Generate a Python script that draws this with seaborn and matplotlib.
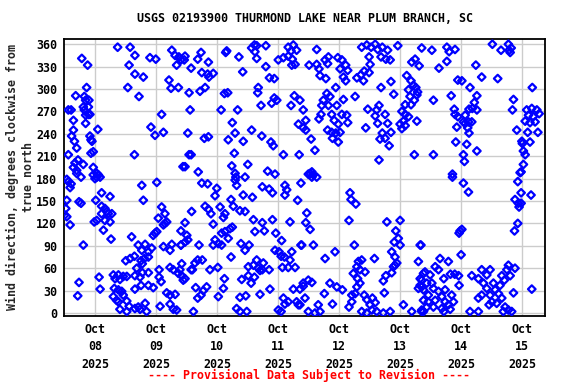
import matplotlib
matplotlib.use("Agg")
import matplotlib.pyplot as plt
import matplotlib.dates as mdates
import seaborn as sns
import pandas as pd

# (hours after 2025-10-08 00:00, wind direction in degrees)
oct07_08_upper = [(8.9,356),(13.8,356),(15.7,345),(-5.2,341),(-2.9,332),(13.4,332),(21.6,342),(23.9,340),(30.2,352),(31.5,345),(33.0,343),(33.8,339),(32.1,332),(15.7,320),(19.0,316),(29.1,312),(29.9,301),(32.8,302),(-3.3,302),(12.9,302),(17.3,290),(-7.6,291),(-4.2,290),(-3.7,285),(-2.4,285),(-4.6,276),(-2.6,276),(-10.5,272),(-9.4,272),(-4.2,272),(-2.6,266),(-3.7,265),(-2.0,266),(-8.5,258),(-3.7,254),(26.2,266),(22.0,249),(23.6,238),(26.9,242),(1.1,246),(-8.5,245),(-9.2,237),(-2.0,237),(-1.6,232),(-1.2,230),(-8.1,230),(-7.2,221),(-10.5,212),(-1.6,214),(-0.7,216),(15.5,212),(-6.7,205),(-7.9,201),(-8.5,195),(-7.2,191),(-4.6,199),(-0.7,195),(0.7,187),(1.3,185),(34.6,196)]
oct07_08_lower = [(-10.5,176),(-9.4,173),(-9.8,168),(-11.1,179),(-5.5,182),(-7.2,187),(-0.7,185),(0.7,182),(2.0,182),(0,180),(18.4,171),(24.3,175),(-11.1,151),(-6.3,149),(-5.5,147),(0.3,151),(2.6,161),(5.9,156),(19.0,151),(-11.5,140),(-12.0,131),(-11.1,129),(2.6,143),(3.9,140),(4.6,136),(2.6,133),(5.2,133),(6.6,133),(5.9,122),(3.9,124),(0.7,124),(-0.3,122),(-9.8,118),(3.3,111),(6.3,99),(-4.6,91),(14.4,102),(26.2,142),(27.5,133),(24.9,127),(28.2,122),(26.9,118),(24.3,109),(22.9,104),(27.5,120),(17.0,91),(19.7,92),(22.3,87),(21.0,82),(18.4,84),(23.6,107),(26.9,89),(30.2,92),(29.5,84),(33.8,91),(12.1,70),(13.8,73),(15.5,76),(18.1,70),(19.4,73),(21.0,75),(18.6,66),(16.4,60),(7.2,51),(9.2,51),(11.1,49),(12.5,49),(9.8,45),(7.9,46),(15.7,50),(17.7,48),(18.6,54),(21.0,54),(25.2,58),(29.5,61),(30.8,58),(32.8,53),(34.1,50),(34.7,44),(1.6,48),(-6.3,41),(-6.8,23),(2.0,32),(7.6,33),(9.2,31),(10.5,29),(15.7,32),(18.1,37),(21.0,37),(22.9,34),(25.2,48),(26.0,42),(28.2,27),(29.5,24),(31.5,25),(7.2,22),(8.5,17),(11.1,24),(9.2,15),(12.5,16),(13.4,9),(9.8,5),(12.5,2),(17.0,8),(19.7,13),(20.3,2),(17.7,5),(25.6,9),(29.5,12),(30.8,5),(15.7,6)]
oct09_10_upper = [(35.4,344),(35.1,339),(37.8,328),(41.7,349),(40.4,340),(44.6,336),(51.8,351),(51.4,349),(56.6,343),(42.0,322),(44.3,320),(44.8,316),(46.5,321),(58.1,323),(37.0,295),(41.3,297),(43.3,302),(50.9,294),(52.2,295),(37.4,272),(49.6,272),(56.1,272),(54.0,255),(36.5,241),(43.0,234),(44.6,236),(55.1,241),(52.4,232),(58.3,230),(37.0,212),(37.8,212),(54.8,214),(35.4,196),(40.6,189),(53.8,197),(55.1,187),(60.1,199),(62.7,359),(61.6,355),(62.9,350),(63.6,358),(67.2,358),(63.6,341),(67.2,330),(76.0,356),(78.0,359),(77.1,351),(79.3,352),(72.1,339),(74.1,342),(76.0,344),(77.6,340),(77.4,332),(78.7,333),(68.6,315),(70.5,314),(64.2,302),(64.0,295),(65.3,278),(69.5,281),(70.5,288),(71.5,285),(78.4,291),(80.6,285),(77.1,278),(81.9,272),(80.0,253),(81.9,248),(61.6,245),(65.6,237),(69.2,229),(70.1,224),(74.1,212),(80.3,212),(67.9,190),(70.8,186)]
oct09_10_lower = [(42.0,174),(44.3,173),(47.9,167),(47.2,157),(55.4,182),(55.1,178),(59.0,182),(55.7,171),(65.8,169),(68.5,166),(69.8,161),(74.7,171),(75.4,165),(74.7,158),(81.0,174),(58.3,158),(61.9,155),(79.7,151),(38.0,136),(43.3,143),(44.6,139),(45.6,133),(49.2,142),(51.1,133),(50.5,128),(53.5,152),(54.4,143),(57.0,137),(59.0,136),(35.4,121),(33.8,110),(36.1,104),(36.5,98),(33.8,91),(35.4,95),(46.5,119),(40.9,91),(62.3,125),(62.9,109),(65.8,121),(66.6,110),(69.8,125),(71.1,107),(73.4,97),(76.7,122),(53.1,113),(54.0,115),(51.1,109),(49.8,107),(52.4,100),(47.2,98),(48.5,93),(49.8,91),(46.5,91),(57.4,93),(59.0,84),(60.6,91),(53.5,75),(70.8,84),(72.4,82),(73.2,76),(74.5,75),(77.4,82),(76.7,71),(76.0,61),(78.7,61),(73.7,61),(81.0,91),(34.1,66),(33.4,58),(35.4,46),(37.8,58),(39.3,67),(40.4,71),(42.2,71),(38.3,58),(45.2,58),(48.3,61),(50.9,46),(60.3,62),(62.3,64),(63.6,71),(64.2,60),(66.2,67),(68.5,58),(65.8,58),(64.9,57),(60.3,50),(57.7,45),(61.4,40),(62.7,48),(39.6,34),(43.9,35),(42.6,30),(40.4,20),(41.7,24),(48.5,22),(50.5,33),(57.0,21),(59.3,23),(64.9,25),(68.8,32),(78.0,32),(81.9,36),(74.1,20),(76.0,15),(79.3,15),(80.6,11),(74.7,12),(32.1,4),(38.7,2),(55.7,6),(57.0,2),(59.7,2),(72.1,4),(73.2,2)]
oct11_12_upper = [(87.2,353),(84.2,332),(87.2,333),(88.1,327),(90.5,339),(91.8,343),(91.5,334),(95.5,342),(97.1,339),(98.6,332),(96.4,327),(99.4,325),(97.7,316),(98.6,311),(88.5,318),(90.8,314),(104.9,356),(106.9,359),(108.6,356),(110.2,360),(111.2,353),(113.0,356),(115.1,352),(107.8,343),(112.5,343),(114.4,340),(116.1,339),(119.1,358),(128.5,355),(108.2,333),(105.9,324),(104.6,319),(107.8,322),(103.0,315),(105.6,311),(125.9,340),(124.6,336),(127.5,331),(94.7,302),(91.2,294),(89.8,285),(89.2,278),(91.8,278),(92.4,290),(95.1,278),(97.7,286),(102.3,290),(112.5,302),(116.4,310),(117.5,293),(122.6,318),(124.3,311),(125.2,305),(123.3,299),(126.2,302),(126.9,296),(123.9,290),(125.6,285),(122.0,279),(124.3,279),(88.9,266),(93.1,266),(94.1,258),(97.1,266),(99.0,265),(99.4,255),(95.7,253),(88.1,260),(107.3,273),(110.8,272),(110.2,264),(111.7,278),(114.1,266),(111.2,254),(115.1,254),(82.9,258),(82.9,245),(91.5,245),(93.1,242),(94.7,241),(96.4,242),(93.4,234),(95.7,229),(106.5,248),(120.7,270),(122.0,266),(123.3,263),(121.3,257),(120.0,253),(120.7,247),(122.0,251),(126.6,257),(113.0,241),(116.4,242),(114.1,234),(112.1,233),(115.7,224),(85.0,233),(86.5,218),(125.6,212),(111.7,205),(85.3,189)]
oct11_12_lower = [(84.6,187),(85.9,185),(87.2,182),(85.3,182),(83.9,186),(83.3,134),(82.9,121),(84.6,112),(100.3,161),(100.7,152),(102.6,146),(99.9,124),(81.3,91),(85.9,91),(90.5,73),(94.4,82),(102.0,91),(83.9,44),(81.9,40),(85.3,41),(80.6,32),(82.6,20),(80.0,11),(92.4,40),(95.1,35),(97.3,31),(90.2,26),(93.4,12),(83.9,2),(87.8,11),(88.5,2),(86.5,0),(101.6,53),(103.6,69),(104.9,71),(103.0,62),(104.2,58),(106.2,55),(103.3,46),(104.2,40),(103.0,35),(101.0,24),(102.3,26),(99.9,8),(101.0,15),(109.9,73),(113.4,43),(114.4,50),(116.7,54),(113.8,27),(105.9,24),(106.9,18),(109.1,20),(110.2,14),(104.9,2),(106.9,0),(108.9,4),(110.8,2),(113.4,0),(116.1,2),(108.2,11),(114.8,122),(120.0,124),(118.3,110),(119.3,100),(117.7,95),(120.0,91),(116.7,82),(118.0,75),(118.7,67),(118.0,64),(117.4,62),(127.9,91),(127.2,69),(121.3,11),(124.6,2),(129.2,53),(128.5,44),(127.9,37),(129.2,31),(127.2,33),(129.2,17),(128.5,2)]
oct13_15_upper = [(132.5,352),(138.4,356),(139.3,350),(141.6,353),(138.4,337),(135.3,328),(149.8,332),(156.3,360),(159.7,352),(162.6,360),(163.7,355),(163.3,349),(162.9,352),(152.1,316),(158.4,314),(142.7,312),(144.3,311),(147.5,302),(126.6,292),(172.0,302),(133.1,285),(140.1,291),(150.2,291),(149.2,282),(148.4,274),(147.1,273),(145.6,265),(150.2,272),(141.3,273),(141.6,266),(142.7,263),(146.9,256),(145.6,254),(148.2,256),(146.6,248),(147.1,241),(144.9,256),(142.3,249),(164.6,286),(164.2,272),(169.8,272),(171.8,274),(173.8,272),(174.7,267),(170.5,265),(172.4,263),(169.2,257),(173.1,256),(171.1,255),(165.9,245),(170.2,242),(174.2,242),(171.1,229),(167.9,230),(168.1,227),(141.9,229),(146.2,226),(150.2,217),(144.9,212),(145.3,203),(133.1,212),(168.5,217),(169.2,212),(168.5,199),(167.6,189),(140.6,186)]
oct13_15_lower = [(140.6,182),(144.9,174),(146.9,162),(167.2,188),(166.3,176),(167.6,161),(171.5,158),(165.2,152),(166.5,147),(167.6,147),(166.8,142),(166.3,120),(165.0,110),(143.6,110),(144.3,112),(143.2,107),(128.2,91),(144.0,78),(135.7,73),(139.0,69),(133.8,62),(135.1,58),(129.8,55),(131.8,51),(127.9,46),(130.5,40),(128.5,35),(133.1,33),(135.1,29),(131.1,24),(136.4,22),(137.7,15),(133.8,17),(139.0,11),(131.1,15),(130.5,8),(133.1,8),(136.4,6),(139.7,5),(128.5,4),(129.2,2),(137.2,2),(137.2,46),(139.8,52),(141.5,52),(143.0,50),(143.2,37),(132.5,40),(137.7,31),(140.3,24),(141.0,15),(148.2,50),(152.1,58),(155.4,58),(154.1,51),(150.8,46),(152.8,40),(154.1,33),(156.7,40),(150.8,20),(152.1,24),(155.4,24),(158.7,26),(156.1,15),(158.0,13),(160.0,20),(161.3,8),(162.6,4),(163.9,2),(160.6,2),(157.4,31),(159.3,37),(161.0,44),(162.6,64),(162.0,58),(165.2,60),(163.3,50),(160.0,50),(164.6,27),(147.5,2),(150.8,2),(155.0,11),(171.8,32)]

title = "USGS 02193900 THURMOND LAKE NEAR PLUM BRANCH, SC"
ylabel = "Wind direction, degrees clockwise from\ntrue north"
footer = "---- Provisional Data Subject to Revision ----"
yticks = [0, 30, 60, 90, 120, 150, 180, 210, 240, 270, 300, 330, 360]
day_ticks = pd.date_range("2025-10-08", "2025-10-15", freq="D")

groups = [oct07_08_upper, oct07_08_lower, oct09_10_upper, oct09_10_lower,
          oct11_12_upper, oct11_12_lower, oct13_15_upper, oct13_15_lower]
rows = [p for g in groups for p in g]
start = pd.Timestamp("2025-10-08")
df = pd.DataFrame(rows, columns=["hours", "direction"])
df["time"] = start + pd.to_timedelta(df["hours"], unit="h")

sns.set_theme(style="white")
plt.rcParams["font.family"] = ["DejaVu Sans Mono"]
plt.rcParams["font.weight"] = "bold"

fig = plt.figure(figsize=(5.76, 3.84), dpi=100)
ax = fig.add_axes([64/576, 68/384, 481/576, 277/384])

sns.scatterplot(data=df, x="time", y="direction", ax=ax, marker="D", s=15,
                facecolors="none", edgecolor="#0000ff", linewidth=1.6, zorder=3)

ax.set_xlim(start - pd.Timedelta(hours=12.2), start + pd.Timedelta(hours=177))
ax.set_ylim(-4, 367)
ax.set_yticks(yticks)
ax.set_xticks(day_ticks)
ax.xaxis.set_major_formatter(mdates.DateFormatter("%b\n%d\n%Y"))
ax.grid(True, color="#cccccc", linewidth=1)
ax.set_axisbelow(True)
for sp in ax.spines.values():
    sp.set_color("black")
    sp.set_linewidth(1.3)
ax.tick_params(axis="both", direction="out", length=3, width=1, colors="black",
               labelsize=8.4, pad=2)
for lab in ax.get_xticklabels():
    lab.set_linespacing(1.45)
    lab.set_fontweight("bold")
for lab in ax.get_yticklabels():
    lab.set_fontweight("bold")
ax.set_xlabel("")
ax.set_ylabel(ylabel, fontsize=8.4, fontweight="bold", labelpad=1, linespacing=1.3)

fig.text(305/576, 1 - 19/384, title, ha="center", va="center", fontsize=8.4,
         fontweight="bold", color="black")
fig.text(309/576, 1 - 375/384, footer, ha="center", va="center", fontsize=8.4,
         fontweight="bold", color="#ff0000")

fig.savefig("out.png", dpi=100)
